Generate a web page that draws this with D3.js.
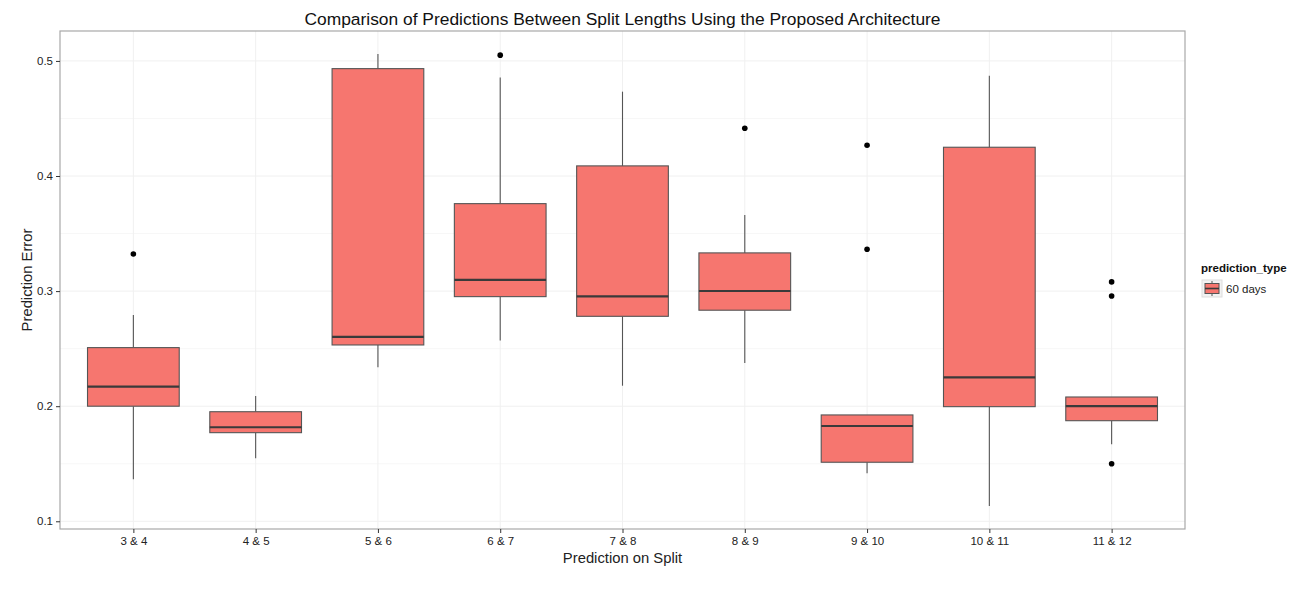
<!DOCTYPE html>
<html>
<head>
<meta charset="utf-8">
<script src="https://cdn.jsdelivr.net/npm/d3@7"></script>
<style>
  body { margin: 0; background: #fff; }
  text { font-family: "Liberation Sans", Arial, sans-serif; }
</style>
</head>
<body>
<svg id="vis"></svg>
<script>
const WIDTH = 1302;
const HEIGHT = 596;

// valores
const categories = ["3 & 4", "4 & 5", "5 & 6", "6 & 7", "7 & 8", "8 & 9", "9 & 10", "10 & 11", "11 & 12"];
const whiskerLow = [0.1365, 0.1547, 0.2338, 0.2570, 0.2178, 0.2376, 0.1417, 0.1133, 0.1669];
const q1 = [0.2000, 0.1770, 0.2532, 0.2952, 0.2781, 0.2834, 0.1513, 0.1996, 0.1874];
const medians = [0.2170, 0.1817, 0.2602, 0.3097, 0.2955, 0.3001, 0.1828, 0.2251, 0.2000];
const q3 = [0.2509, 0.1952, 0.4933, 0.3760, 0.4088, 0.3332, 0.1924, 0.4250, 0.2080];
const whiskerHigh = [0.2793, 0.2089, 0.5060, 0.4855, 0.4733, 0.3662, 0.1924, 0.4872, 0.2080];
const outliers = [[0.3323], [], [], [0.5050], [], [0.4415], [0.4267, 0.3364], [], [0.3080, 0.2958, 0.1500]];
const yTicks = [0.1, 0.2, 0.3, 0.4, 0.5];
const yMinor = [0.15, 0.25, 0.35, 0.45];

const FILL = "#F6766F";
const panel = { left: 60, right: 1185, top: 31, bottom: 529 };

const svg = d3.select("#vis")
    .attr("width", WIDTH)
    .attr("height", HEIGHT);

const data = categories.map((c, i) => ({
    name: c,
    lo: whiskerLow[i],
    q1: q1[i],
    med: medians[i],
    q3: q3[i],
    hi: whiskerHigh[i],
    out: outliers[i]
}));

const escalaX = d3.scalePoint()
    .domain(categories)
    .range([panel.left, panel.right])
    .padding(0.6);

const escalaY = d3.scaleLinear()
    .domain([0.0933, 0.526])
    .range([panel.bottom, panel.top]);

const boxW = escalaX.step() * 0.75;

// rejilla
const grid = svg.append("g");
grid.selectAll(".minor")
    .data(yMinor)
    .join("line")
    .attr("x1", panel.left).attr("x2", panel.right)
    .attr("y1", d => escalaY(d)).attr("y2", d => escalaY(d))
    .attr("stroke", "#f7f7f7");
grid.selectAll(".majorY")
    .data(yTicks)
    .join("line")
    .attr("x1", panel.left).attr("x2", panel.right)
    .attr("y1", d => escalaY(d)).attr("y2", d => escalaY(d))
    .attr("stroke", "#f0f0f0");
grid.selectAll(".majorX")
    .data(categories)
    .join("line")
    .attr("y1", panel.top).attr("y2", panel.bottom)
    .attr("x1", d => escalaX(d)).attr("x2", d => escalaX(d))
    .attr("stroke", "#f0f0f0");

// cajas
const boxes = svg.selectAll(".box")
    .data(data)
    .join("g")
    .attr("class", "box");

boxes.append("line")
    .attr("x1", d => escalaX(d.name)).attr("x2", d => escalaX(d.name))
    .attr("y1", d => escalaY(d.q3)).attr("y2", d => escalaY(d.hi))
    .attr("stroke", "#555").attr("stroke-width", 1.1);
boxes.append("line")
    .attr("x1", d => escalaX(d.name)).attr("x2", d => escalaX(d.name))
    .attr("y1", d => escalaY(d.q1)).attr("y2", d => escalaY(d.lo))
    .attr("stroke", "#555").attr("stroke-width", 1.1);
boxes.append("rect")
    .attr("x", d => escalaX(d.name) - boxW / 2)
    .attr("width", boxW)
    .attr("y", d => escalaY(d.q3))
    .attr("height", d => escalaY(d.q1) - escalaY(d.q3))
    .attr("fill", FILL)
    .attr("stroke", "#555")
    .attr("stroke-width", 1.1);
boxes.append("line")
    .attr("x1", d => escalaX(d.name) - boxW / 2).attr("x2", d => escalaX(d.name) + boxW / 2)
    .attr("y1", d => escalaY(d.med)).attr("y2", d => escalaY(d.med))
    .attr("stroke", "#3a3a3a").attr("stroke-width", 2.2);

boxes.selectAll(".outlier")
    .data(d => d.out.map(v => ({ name: d.name, v: v })))
    .join("circle")
    .attr("cx", d => escalaX(d.name))
    .attr("cy", d => escalaY(d.v))
    .attr("r", 2.8)
    .attr("fill", "#000");

// borde del panel
svg.append("rect")
    .attr("x", panel.left).attr("y", panel.top)
    .attr("width", panel.right - panel.left)
    .attr("height", panel.bottom - panel.top)
    .attr("fill", "none")
    .attr("stroke", "#a8a8a8")
    .attr("stroke-width", 1.2);

// ejes
const ejeY = d3.axisLeft(escalaY).tickValues(yTicks).tickSize(4).tickPadding(3).tickFormat(d3.format(".1f"));
const ejeX = d3.axisBottom(escalaX).tickSize(4).tickPadding(4);

const gy = svg.append("g")
    .attr("transform", `translate(${panel.left}, 0)`)
    .call(ejeY);
const gx = svg.append("g")
    .attr("transform", `translate(0, ${panel.bottom})`)
    .call(ejeX);

[gx, gy].forEach(g => {
    g.select(".domain").remove();
    g.selectAll(".tick line").attr("stroke", "#333");
    g.selectAll(".tick text")
        .attr("fill", "#222")
        .style("font-size", "11.5px")
        .style("font-family", "Liberation Sans, Arial, sans-serif");
});

// títulos
svg.append("text")
    .attr("x", (panel.left + panel.right) / 2)
    .attr("y", 25)
    .attr("text-anchor", "middle")
    .attr("fill", "#111")
    .style("font-size", "17.4px")
    .text("Comparison of Predictions Between Split Lengths Using the Proposed Architecture");

svg.append("text")
    .attr("x", (panel.left + panel.right) / 2)
    .attr("y", 563)
    .attr("text-anchor", "middle")
    .attr("fill", "#222")
    .style("font-size", "14.8px")
    .text("Prediction on Split");

svg.append("text")
    .attr("transform", `translate(32, ${(panel.top + panel.bottom) / 2}) rotate(-90)`)
    .attr("text-anchor", "middle")
    .attr("fill", "#222")
    .style("font-size", "14.8px")
    .text("Prediction Error");

// leyenda
const leg = svg.append("g").attr("transform", "translate(1201, 0)");
leg.append("text")
    .attr("x", 0).attr("y", 272)
    .attr("fill", "#111")
    .style("font-size", "11.5px")
    .style("font-weight", "bold")
    .text("prediction_type");
leg.append("rect")
    .attr("x", 1).attr("y", 280)
    .attr("width", 20).attr("height", 17)
    .attr("fill", "#f2f2f2")
    .attr("stroke", "#ddd");
leg.append("line")
    .attr("x1", 11).attr("x2", 11).attr("y1", 281).attr("y2", 296)
    .attr("stroke", "#555");
leg.append("rect")
    .attr("x", 4).attr("y", 283.5)
    .attr("width", 14).attr("height", 10)
    .attr("fill", FILL)
    .attr("stroke", "#555");
leg.append("line")
    .attr("x1", 4).attr("x2", 18).attr("y1", 288.5).attr("y2", 288.5)
    .attr("stroke", "#3a3a3a").attr("stroke-width", 1.6);
leg.append("text")
    .attr("x", 25).attr("y", 293)
    .attr("fill", "#222")
    .style("font-size", "11.5px")
    .text("60 days");
</script>
</body>
</html>
